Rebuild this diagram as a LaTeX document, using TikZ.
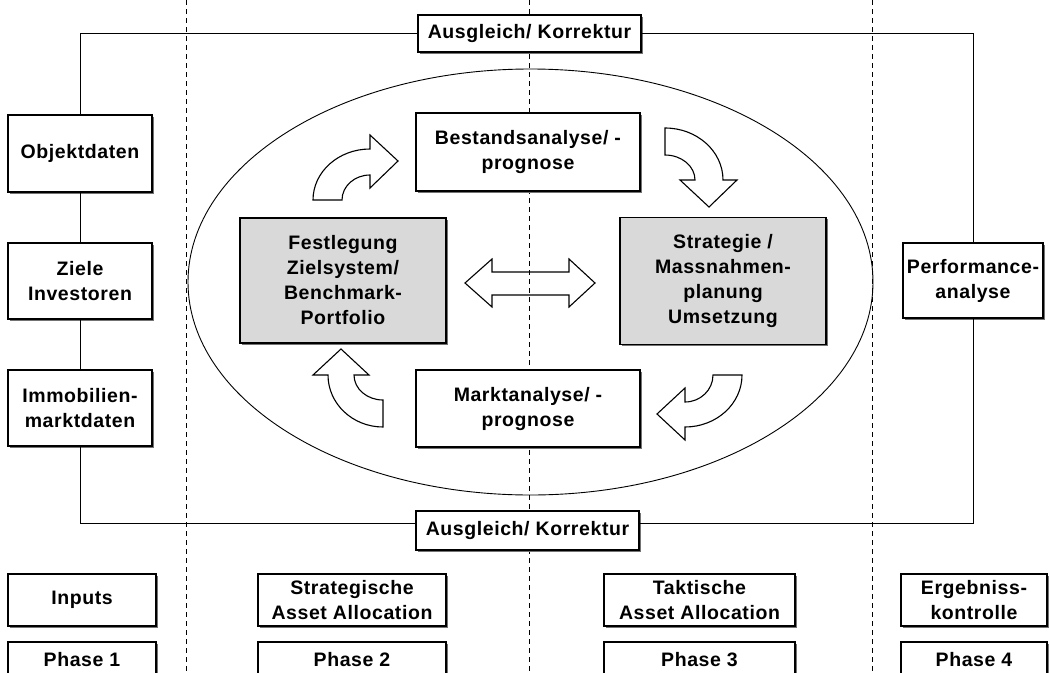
\documentclass[tikz,border=0pt]{standalone}
\usepackage{fontspec}
\setmainfont{Liberation Sans}[LetterSpace=3]
\usetikzlibrary{shadows}
\begin{document}
\begin{tikzpicture}[x=1pt,y=-1pt,
  txt/.style={font=\bfseries\fontsize{19.5}{25}\selectfont, align=center},
  box/.style={txt, draw, line width=1.2pt, fill=white, inner sep=0pt,
    drop shadow={shadow xshift=1.6pt, shadow yshift=-1.6pt, fill=black!55, opacity=1}},
  graybox/.style={box, fill=black!15},
  conn/.style={line width=1pt},
  sep/.style={line width=0.9pt, dash pattern=on 5pt off 4pt},
  shapearrow/.style={line width=1.1pt, line join=miter}]
\useasboundingbox (0,0) rectangle (1049,672);
% phase separators
\draw[sep] (186,0) coordinate (s1a) -- (186,672) coordinate (s1b);
\draw[sep] (529,0) coordinate (s2a) -- (529,672) coordinate (s2b);
\draw[sep] (872,0) coordinate (s3a) -- (872,672) coordinate (s3b);
% ellipse
\draw[line width=0.9pt] (530.5,282) ellipse [x radius=342.5, y radius=213];
% correction boxes
\node[box, minimum width=223pt, minimum height=37pt] (topk) at (529.5,33.5) {Ausgleich/ Korrektur};
\node[box, minimum width=223pt, minimum height=39pt] (botk) at (527.5,530.5) {Ausgleich/ Korrektur};
% inputs
\node[box, minimum width=144pt, minimum height=77pt] (obj) at (80,153.5) {Objektdaten};
\node[box, minimum width=144pt, minimum height=76pt] (ziele) at (80,281) {Ziele\\Investoren};
\node[box, minimum width=144pt, minimum height=76pt] (immo) at (80,408) {Immobilien-\\marktdaten};
\node[box, minimum width=140pt, minimum height=75pt] (perf) at (973,280.5) {Performance-\\analyse};
% loop
\draw[conn] (obj.north) |- (topk.west);
\draw[conn] (topk.east) -| (perf.north);
\draw[conn] (obj.south) -- (ziele.north);
\draw[conn] (ziele.south) -- (immo.north);
\draw[conn] (immo.south) |- ([yshift=7pt]botk.west);
\draw[conn] ([yshift=7pt]botk.east) -| (perf.south);
% inner boxes
\node[box, minimum width=224pt, minimum height=78pt] (best) at (528,152) {Bestandsanalyse/ -\\prognose};
\node[box, minimum width=224pt, minimum height=77pt] (markt) at (528,408.5) {Marktanalyse/ -\\prognose};
\node[graybox, minimum width=206pt, minimum height=125pt] (fest) at (343,280.5) {Festlegung\\Zielsystem/\\Benchmark-\\Portfolio};
\node[graybox, minimum width=206pt, minimum height=127pt] (strat) at (723,281) {Strategie /\\Massnahmen-\\planung\\Umsetzung};
% double arrow
\draw[shapearrow] (465,283) -- (492,259) -- (492,272) -- (569,272) -- (569,259) -- (595,283)
  -- (569,307) -- (569,295) -- (492,295) -- (492,307) -- cycle;
% curved arrows
\draw[shapearrow, fill=white] (313,200) arc[start angle=180, end angle=270, x radius=57, y radius=51]
  -- (370,135) -- (398,161) -- (370,188) -- (370,175)
  arc[start angle=270, end angle=180, x radius=28, y radius=25] -- cycle;
\draw[shapearrow, fill=white] (665,128) arc[start angle=270, end angle=360, x radius=58, y radius=52]
  -- (737,180) -- (709,207) -- (680,180) -- (695,180)
  arc[start angle=0, end angle=-90, x radius=30, y radius=25] -- cycle;
\draw[shapearrow, fill=white] (742,375) arc[start angle=0, end angle=90, x radius=57, y radius=52]
  -- (685,440) -- (657,414) -- (685,388) -- (685,402)
  arc[start angle=90, end angle=0, x radius=28, y radius=27] -- cycle;
\draw[shapearrow, fill=white] (383,427) arc[start angle=90, end angle=180, x radius=55, y radius=52]
  -- (313,375) -- (341,349) -- (369,375) -- (354,375)
  arc[start angle=180, end angle=90, x radius=29, y radius=25] -- cycle;
% bottom rows
\node[box, minimum width=148pt, minimum height=52pt] (inp) at (82,600) {Inputs};
\node[box, minimum width=188pt, minimum height=52pt] (saa) at (352,600) {Strategische\\Asset Allocation};
\node[box, minimum width=191pt, minimum height=52pt] (taa) at (699.5,600) {Taktische\\Asset Allocation};
\node[box, minimum width=146pt, minimum height=52pt] (erg) at (974,600) {Ergebniss-\\kontrolle};
\node[box, minimum width=148pt, minimum height=36pt] (ph1) at (82,660) {Phase 1};
\node[box, minimum width=188pt, minimum height=36pt] (ph2) at (352,660) {Phase 2};
\node[box, minimum width=191pt, minimum height=36pt] (ph3) at (699.5,660) {Phase 3};
\node[box, minimum width=146pt, minimum height=36pt] (ph4) at (974,660) {Phase 4};
\end{tikzpicture}
\end{document}
